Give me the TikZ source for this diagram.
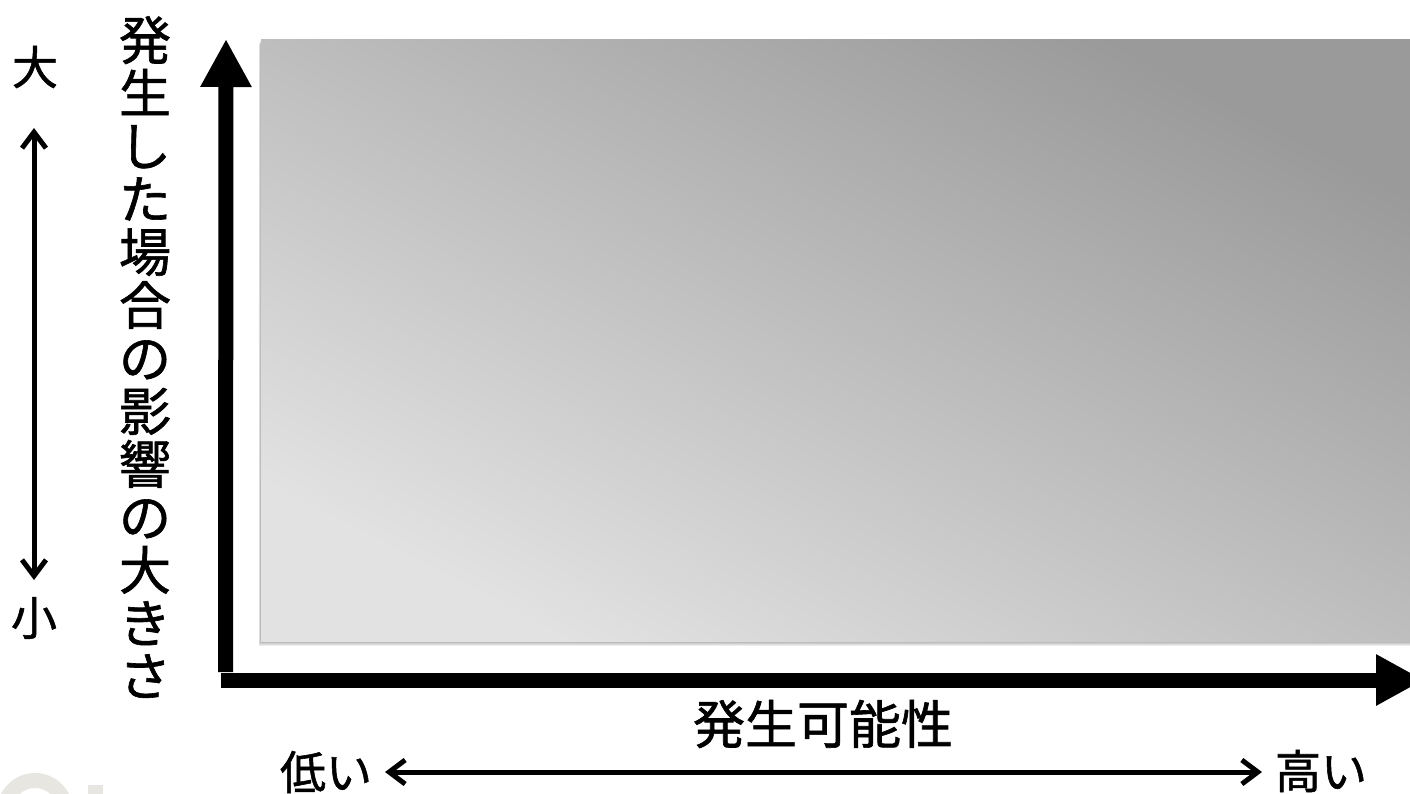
\documentclass[tikz,border=0pt]{standalone}
\usepackage{fontspec}
\setmainfont{Noto Sans CJK JP}[FakeBold=1.2]
\usetikzlibrary{arrows.meta}
\definecolor{gradtr}{HTML}{9A9A9A}
\definecolor{gradbl}{HTML}{E2E2E2}
\definecolor{logogray}{HTML}{E8E6E1}
\begin{document}
\begin{tikzpicture}[x=1pt,y=-1pt,
  axisline/.style={line width=15pt,-{Triangle[length=48pt,width=48pt]}},
  dblarrow/.style={line width=5pt,{Straight Barb[length=16pt,width=24pt]}-{Straight Barb[length=16pt,width=24pt]}},
  biglabel/.style={font=\fontsize{52}{53}\selectfont,inner sep=0pt},
  smalllabel/.style={font=\fontsize{46}{46}\selectfont,inner sep=0pt}]
\useasboundingbox (0,0) rectangle (1410,793);
\clip (0,0) rectangle (1410,793);
\fill[white] (0,0) rectangle (1410,793);
% faint logo
\fill[logogray,even odd rule] (35,811) circle (38) (35,811) circle (23);
\fill[logogray] (88,785) rectangle (103,800);
% shadow
\foreach \k in {1,...,5}{
  \fill[black,opacity=0.07] (261-0.4*\k,39+\k) rectangle (1414,641+\k);
}
% gradient panel
\shade[top color=gradtr,bottom color=gradbl,shading angle=-27.4] (261,39) rectangle (1412,641);
% axes
\coordinate (yfoot) at (225.5,672);
\coordinate (ytip) at (226,39);
\coordinate (xfoot) at (221,680);
\coordinate (xtip) at (1424,680);
\draw[axisline] (yfoot) -- (ytip);
\draw[axisline] (xfoot) -- (xtip);
% labels
\node[biglabel,align=center] (vlabel) at (145,357) {発\\生\\し\\た\\場\\合\\の\\影\\響\\の\\大\\き\\さ};
\node[biglabel] (hlabel) at (823,724) {発生可能性};
\node[smalllabel] (big) at (35,67) {大};
\node[smalllabel] (small) at (34,618) {小};
\node[smalllabel] (low) at (326,772) {低い};
\node[smalllabel] (high) at (1321,771) {高い};
% small arrows
\coordinate (vtop) at (34,128);
\coordinate (vbot) at (34,580);
\draw[dblarrow] (vtop) -- (vbot);
\coordinate (hleft) at (385,772);
\coordinate (hright) at (1262,772);
\draw[dblarrow] (hleft) -- (hright);
\end{tikzpicture}
\end{document}
